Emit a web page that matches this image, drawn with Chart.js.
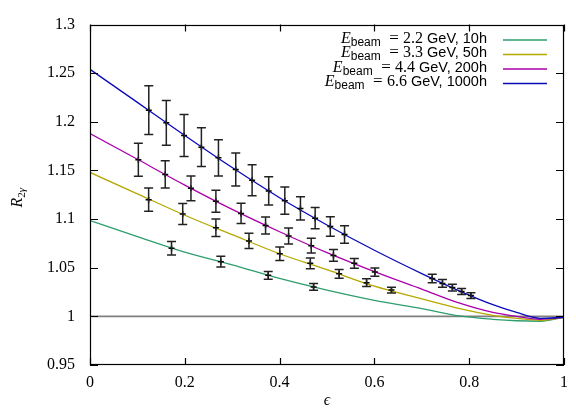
<!DOCTYPE html>
<html><head><meta charset="utf-8">
<script src="https://cdn.jsdelivr.net/npm/chart.js@4.4.1/dist/chart.umd.min.js"></script>
<style>html,body{margin:0;padding:0;background:#fff;}#wrap{width:576px;height:413px;position:relative;}</style>
</head><body><div id="wrap"><canvas id="c" width="576" height="413"></canvas></div>
<script>
// ---- data ----
const xTicks = [0, 0.2, 0.4, 0.6, 0.8, 1];
const xTickLabels = ["0", "0.2", "0.4", "0.6", "0.8", "1"];
const yTicks = [0.95, 1, 1.05, 1.1, 1.15, 1.2, 1.25, 1.3];
const yTickLabels = ["0.95", "1", "1.05", "1.1", "1.15", "1.2", "1.25", "1.3"];

const beamEnergies = ["2.2", "3.3", "4.4", "6.6"];
const beamHours = ["10h", "50h", "200h", "1000h"];

// model curves
const curveEps = [0, 0.1, 0.2, 0.3, 0.4, 0.5, 0.6, 0.7, 0.78, 0.85, 0.9, 0.95, 1.0];
const curve22 = [1.0985, 1.082, 1.066, 1.053, 1.039, 1.027, 1.0165, 1.008, 1.0005, 0.997, 0.9955, 0.995, 0.999];
const curve33 = [1.148, 1.126, 1.104, 1.084, 1.0644, 1.048, 1.031, 1.018, 1.008, 1.001, 0.998, 0.996, 0.999];
const curve44 = [1.188, 1.1615, 1.135, 1.110, 1.087, 1.0655, 1.046, 1.028, 1.0135, 1.004, 1.000, 0.997, 0.999];
const curve66 = [1.254, 1.220, 1.186, 1.153, 1.122, 1.094, 1.068, 1.044, 1.026, 1.012, 1.004, 0.998, 0.999];

// projected data points with errors
const pts22Eps = [0.172, 0.276, 0.376, 0.4717];
const pts22Val = [1.070, 1.0562, 1.0422, 1.0303];
const pts22Err = [0.007, 0.0055, 0.004, 0.0035];

const pts33Eps = [0.1237, 0.1956, 0.2656, 0.3354, 0.4004, 0.4648, 0.5256, 0.5835, 0.636];
const pts33Val = [1.120, 1.1052, 1.091, 1.0776, 1.0644, 1.0545, 1.0438, 1.0346, 1.027];
const pts33Err = [0.012, 0.0108, 0.009, 0.0078, 0.007, 0.0055, 0.0045, 0.004, 0.003];

const pts44Eps = [0.102, 0.1587, 0.213, 0.2656, 0.3187, 0.3704, 0.419, 0.4668, 0.5136, 0.5577, 0.601];
const pts44Val = [1.161, 1.146, 1.1317, 1.1184, 1.1059, 1.0935, 1.0826, 1.0727, 1.0627, 1.0545, 1.0455];
const pts44Err = [0.017, 0.014, 0.0127, 0.0113, 0.0104, 0.0088, 0.0083, 0.0075, 0.006, 0.005, 0.0042];

const pts66Eps = [0.124, 0.161, 0.1985, 0.235, 0.271, 0.3075, 0.342, 0.377, 0.411, 0.444, 0.475, 0.507, 0.537, 0.722, 0.7436, 0.7645, 0.784, 0.8036];
const pts66Val = [1.212, 1.199, 1.186, 1.174, 1.163, 1.151, 1.140, 1.129, 1.119, 1.111, 1.101, 1.0925, 1.0843, 1.0389, 1.0339, 1.0296, 1.0256, 1.0214];
const pts66Err = [0.025, 0.023, 0.0215, 0.020, 0.0186, 0.017, 0.016, 0.0145, 0.014, 0.012, 0.011, 0.010, 0.009, 0.0043, 0.004, 0.0035, 0.003, 0.003];

const refLineEps = [0, 1];
const refLineVal = [1, 1];

// ---- build ----
const colors = ['#2e9e6e', '#b5a800', '#aa00aa', '#0a0ab8'];
const curves = [curve22, curve33, curve44, curve66];
const ptsE = [pts22Eps, pts33Eps, pts44Eps, pts66Eps];
const ptsV = [pts22Val, pts33Val, pts44Val, pts66Val];
const ptsR = [pts22Err, pts33Err, pts44Err, pts66Err];
const zip = (xs, ys) => xs.map((x, i) => ({x: x, y: ys[i]}));

const datasets = [];
datasets.push({type: 'line', data: zip(refLineEps, refLineVal), borderColor: '#808080', borderWidth: 1.6, pointRadius: 0, fill: false, order: 10});
curves.forEach((c, i) => datasets.push({
  type: 'line', label: 'curve' + i, data: zip(curveEps, c), borderColor: colors[i], borderWidth: 1.3,
  pointRadius: 0, fill: false, cubicInterpolationMode: 'monotone', order: 9 - i
}));
ptsE.forEach((e, i) => datasets.push({
  type: 'scatter', label: 'pts' + i, data: zip(e, ptsV[i]), errs: ptsR[i], showLine: false,
  pointStyle: 'cross', pointRadius: 3, borderColor: '#000', borderWidth: 1.5, backgroundColor: '#000', order: 1
}));

const SERIF = '"Liberation Serif", "DejaVu Serif", serif';
const SANS = '"Liberation Sans", "DejaVu Sans", sans-serif';

const deco = {
  id: 'deco',
  afterDatasetsDraw(chart) {
    const {ctx, scales: {x, y}} = chart;
    ctx.save();
    ctx.strokeStyle = '#222';
    ctx.lineWidth = 1.5;
    chart.data.datasets.forEach(ds => {
      if (!ds.errs) return;
      ds.data.forEach((p, i) => {
        const px = x.getPixelForValue(p.x);
        const y1 = y.getPixelForValue(p.y + ds.errs[i]);
        const y2 = y.getPixelForValue(p.y - ds.errs[i]);
        ctx.beginPath();
        ctx.moveTo(px, y1); ctx.lineTo(px, y2);
        ctx.moveTo(px - 4.5, y1); ctx.lineTo(px + 4.5, y1);
        ctx.moveTo(px - 4.5, y2); ctx.lineTo(px + 4.5, y2);
        ctx.stroke();
      });
    });
    ctx.restore();
  },
  afterDraw(chart) {
    const {ctx, chartArea: a, scales: {x, y}} = chart;
    ctx.save();
    // frame + inward ticks
    ctx.strokeStyle = '#000';
    ctx.lineWidth = 1.2;
    ctx.beginPath();
    xTicks.forEach(v => {
      const px = Math.round(x.getPixelForValue(v)) + 0.5;
      ctx.moveTo(px, a.bottom); ctx.lineTo(px, a.bottom - 7);
      ctx.moveTo(px, a.top); ctx.lineTo(px, a.top + 7);
    });
    yTicks.forEach(v => {
      const py = Math.round(y.getPixelForValue(v)) + 0.5;
      ctx.moveTo(a.left, py); ctx.lineTo(a.left + 8, py);
      ctx.moveTo(a.right, py); ctx.lineTo(a.right - 8, py);
    });
    ctx.stroke();
    ctx.strokeRect(Math.round(a.left) + 0.5, Math.round(a.top) + 0.5, Math.round(a.width) - 1, Math.round(a.height) - 1);

    ctx.fillStyle = '#000';
    // x title
    ctx.font = 'italic 16px ' + SERIF;
    ctx.textAlign = 'center';
    ctx.textBaseline = 'alphabetic';
    ctx.fillText('\u03F5', (a.left + a.right) / 2, 405);

    // y title R_{2γ}
    ctx.save();
    ctx.translate(22, (a.top + a.bottom) / 2 + 3);
    ctx.rotate(-Math.PI / 2);
    ctx.textAlign = 'left';
    ctx.font = 'italic 16px ' + SERIF; const wR = ctx.measureText('R').width;
    ctx.font = '11px ' + SERIF; const w2 = ctx.measureText('2').width;
    ctx.font = 'italic 11px ' + SERIF; const wg = ctx.measureText('\u03B3').width;
    let xx = -(wR + w2 + wg) / 2;
    ctx.font = 'italic 16px ' + SERIF; ctx.fillText('R', xx, 0); xx += wR;
    ctx.font = '11px ' + SERIF; ctx.fillText('2', xx, 3); xx += w2;
    ctx.font = 'italic 11px ' + SERIF; ctx.fillText('\u03B3', xx, 3);
    ctx.restore();

    // legend
    const textRight = a.right - 77;
    const lx1 = a.right - 61, lx2 = a.right - 17;
    beamEnergies.forEach((en, i) => {
      const ly = a.top + 15.5 + i * 14.5;
      const parts = [
        {t: 'E', f: 'italic 16px ' + SERIF, dy: 2.5},
        {t: 'beam', f: '12px ' + SANS, dy: 5.5},
        {t: '\u2002= ', f: '17px ' + SERIF, dy: 2.5},
        {t: en + ' ', f: '16px ' + SERIF, dy: 2.5},
        {t: 'GeV, ' + beamHours[i], f: '14.5px ' + SANS, dy: 2.5}
      ];
      let tot = 0;
      parts.forEach(p => { ctx.font = p.f; p.w = ctx.measureText(p.t).width; tot += p.w; });
      let px = textRight - tot;
      ctx.textAlign = 'left';
      parts.forEach(p => { ctx.font = p.f; ctx.fillText(p.t, px, ly + p.dy); px += p.w; });
      ctx.strokeStyle = colors[i];
      ctx.lineWidth = 1.5;
      ctx.beginPath(); ctx.moveTo(lx1, ly); ctx.lineTo(lx2, ly); ctx.stroke();
    });
    ctx.restore();
  }
};

new Chart(document.getElementById('c'), {
  data: {datasets: datasets},
  options: {
    responsive: false,
    animation: false,
    events: [],
    layout: {padding: {top: 13, right: 9, left: 0, bottom: 0}},
    plugins: {legend: {display: false}, tooltip: {enabled: false}},
    scales: {
      x: {
        type: 'linear', min: 0, max: 1, position: 'bottom',
        grid: {display: false, drawTicks: false}, border: {display: false},
        afterBuildTicks: s => { s.ticks = xTicks.map(v => ({value: v})); },
        afterFit: s => { s.height = 48; },
        ticks: {autoSkip: false, maxRotation: 0, padding: 8, color: '#000',
          font: {family: SERIF, size: 16},
          callback: (v, i) => xTickLabels[i]}
      },
      y: {
        type: 'linear', min: 0.95, max: 1.3, position: 'left',
        grid: {display: false, drawTicks: false}, border: {display: false},
        afterBuildTicks: s => { s.ticks = yTicks.map(v => ({value: v})); },
        afterFit: s => { s.width = 90; },
        ticks: {autoSkip: false, padding: 15, color: '#000',
          font: {family: SERIF, size: 16},
          callback: (v, i) => yTickLabels[i]}
      }
    }
  },
  plugins: [deco]
});
</script>
</body></html>
